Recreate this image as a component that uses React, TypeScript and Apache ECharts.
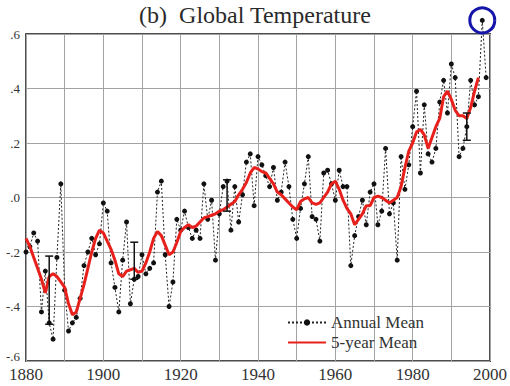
import { useEffect, useRef } from "react";
import * as echarts from "echarts";

const START_YEAR = 1880;

// Annual mean temperature anomaly (°C), 1880–1999
const annualMean = [
  -0.20, -0.18, -0.13, -0.16, -0.42, -0.27, -0.46, -0.52, -0.22, 0.05,
  -0.34, -0.49, -0.46, -0.44, -0.37, -0.25, -0.20, -0.15, -0.21, -0.17,
  -0.02, -0.05, -0.24, -0.33, -0.42, -0.23, -0.09, -0.39, -0.30, -0.29,
  -0.21, -0.28, -0.26, -0.24, 0.02, 0.06, -0.21, -0.40, -0.31, -0.08,
  -0.12, -0.05, -0.11, -0.15, -0.12, -0.15, 0.05, -0.08, -0.01, -0.23,
  -0.06, 0.04, 0.06, -0.12, 0.04, -0.09, 0.01, 0.13, 0.16, -0.03,
  0.15, 0.12, 0.08, 0.04, 0.11, -0.01, 0.02, 0.13, 0.04, -0.08,
  -0.15, -0.04, 0.05, 0.15, -0.07, -0.08, -0.16, 0.09, 0.10, 0.05,
  -0.01, 0.10, 0.04, 0.04, -0.25, -0.14, -0.07, -0.01, -0.10, 0.02,
  0.05, -0.10, -0.05, 0.18, -0.06, -0.02, -0.23, 0.15, 0.03, 0.12,
  0.26, 0.39, 0.09, 0.34, 0.16, 0.13, 0.18, 0.35, 0.43, 0.31,
  0.49, 0.44, 0.15, 0.18, 0.26, 0.43, 0.34, 0.37, 0.65, 0.44,
];

// 5-year running mean, 1880–1997
const fiveYearMean = [
  -0.15, -0.18, -0.22, -0.26, -0.30, -0.35, -0.29, -0.28, -0.29, -0.31,
  -0.33, -0.39, -0.43, -0.42, -0.37, -0.32, -0.26, -0.20, -0.15, -0.12,
  -0.13, -0.16, -0.19, -0.23, -0.28, -0.29, -0.27, -0.265, -0.26, -0.275,
  -0.27, -0.24, -0.20, -0.15, -0.125, -0.14, -0.175, -0.21, -0.20, -0.165,
  -0.125, -0.11, -0.10, -0.11, -0.105, -0.09, -0.075, -0.07, -0.065, -0.06,
  -0.05, -0.045, -0.035, -0.025, -0.015, 0.01, 0.03, 0.055, 0.09, 0.11,
  0.105, 0.095, 0.09, 0.07, 0.05, 0.02, 0.01, -0.005, -0.02, -0.035,
  -0.045, -0.015, -0.005, 0.0, -0.02, -0.025, -0.02, 0.0, 0.02, 0.05,
  0.06, 0.03, -0.01, -0.04, -0.06, -0.10, -0.08, -0.06, -0.03, -0.03,
  0.0, 0.005, 0.0, -0.01, -0.02, -0.01, 0.0, 0.04, 0.11, 0.17,
  0.20, 0.24, 0.25, 0.23, 0.18, 0.22, 0.26, 0.29, 0.37, 0.39,
  0.36, 0.32, 0.30, 0.30, 0.29, 0.33, 0.39, 0.44,
];

// Error bars
const errorYears = [1886, 1908, 1932, 1994];
const errorLow = [-0.465, -0.30, -0.05, 0.21];
const errorHigh = [-0.215, -0.164, 0.065, 0.31];

const highlightYear = 1998;

const SERIF = "'Liberation Serif', 'DejaVu Serif', serif";

function fmtY(v: number): string {
  const s = Math.abs(v).toFixed(1).replace(/^0/, "");
  return (v < -1e-9 ? "-" : "") + s;
}

export default function App() {
  const ref = useRef<HTMLDivElement>(null);

  useEffect(() => {
    if (!ref.current) return;
    const chart = echarts.init(ref.current, undefined, { renderer: "svg" });

    const annualData = annualMean.map((v, i) => [START_YEAR + i, v]);
    const fiveData = fiveYearMean.map((v, i) => [START_YEAR + i, v]);
    const errData = errorYears.map((y, i) => [y, errorLow[i], errorHigh[i]]);
    const hiIdx = highlightYear - START_YEAR;

    chart.setOption({
      animation: false,
      backgroundColor: "#ffffff",
      title: {
        text: "(b)  Global Temperature",
        left: "center",
        top: -2,
        textStyle: {
          fontFamily: SERIF,
          fontSize: 24,
          fontWeight: "normal",
          color: "#2a2a2a",
        },
      },
      grid: {
        left: 26,
        right: 20,
        top: 34,
        bottom: 25,
        show: true,
        borderColor: "#4d4d4d",
        borderWidth: 2,
      },
      xAxis: {
        type: "value",
        min: 1880,
        max: 2000,
        interval: 10,
        axisLine: { show: false },
        axisTick: { show: false },
        splitLine: { show: true, lineStyle: { color: "#a3a3a3", width: 1 } },
        axisLabel: {
          formatter: (v: number) => (v % 20 === 0 ? String(v) : ""),
          fontFamily: SERIF,
          fontSize: 17,
          color: "#333333",
          margin: 5,
        },
      },
      yAxis: {
        type: "value",
        min: -0.6,
        max: 0.6,
        interval: 0.2,
        axisLine: { show: false },
        axisTick: { show: false },
        splitLine: { show: true, lineStyle: { color: "#a3a3a3", width: 1 } },
        axisLabel: {
          formatter: (v: number) =>
            v < -0.59 ? "{low|" + fmtY(v) + "}" : fmtY(v),
          fontFamily: SERIF,
          fontSize: 13,
          color: "#333333",
          margin: 6,
          rich: {
            low: {
              fontFamily: SERIF,
              fontSize: 13,
              color: "#333333",
              padding: [0, 0, 9, 0],
            },
          },
        },
      },
      legend: {
        orient: "vertical",
        left: 282,
        top: 309,
        itemWidth: 38,
        itemHeight: 8,
        itemGap: 3,
        data: [
          { name: "Annual Mean" },
          { name: "5-year Mean", itemStyle: { opacity: 0 } },
        ],
        textStyle: {
          fontFamily: SERIF,
          fontSize: 17,
          color: "#333333",
          lineHeight: 17,
        },
      },
      series: [
        {
          name: "Annual Mean",
          type: "line",
          data: annualData,
          clip: false,
          symbol: "circle",
          symbolSize: 5,
          itemStyle: { color: "#111111" },
          lineStyle: { color: "#222222", width: 1, type: [2, 2] },
          z: 2,
        },
        {
          name: "5-year Mean",
          type: "line",
          data: fiveData,
          symbol: "none",
          itemStyle: { color: "#e8201c" },
          lineStyle: { color: "#e8201c", width: 3 },
          z: 3,
        },
        {
          name: "Error",
          type: "custom",
          data: errData,
          z: 4,
          renderItem: (_params: any, api: any) => {
            const x = api.value(0);
            const lo = api.coord([x, api.value(1)]);
            const hi = api.coord([x, api.value(2)]);
            const w = 4;
            const style = { stroke: "#111111", lineWidth: 1.5 };
            return {
              type: "group",
              children: [
                { type: "line", shape: { x1: lo[0], y1: lo[1], x2: hi[0], y2: hi[1] }, style },
                { type: "line", shape: { x1: lo[0] - w, y1: lo[1], x2: lo[0] + w, y2: lo[1] }, style },
                { type: "line", shape: { x1: hi[0] - w, y1: hi[1], x2: hi[0] + w, y2: hi[1] }, style },
              ],
            };
          },
        },
        {
          name: "Highlight",
          type: "scatter",
          data: [annualData[hiIdx]],
          clip: false,
          silent: true,
          symbol: "circle",
          symbolSize: 25,
          itemStyle: {
            color: "rgba(255,255,255,0)",
            borderColor: "#1515aa",
            borderWidth: 3,
            opacity: 1,
          },
          z: 5,
        },
      ],
    });

    return () => chart.dispose();
  }, []);

  return (
    <div
      ref={ref}
      style={{ position: "absolute", left: 0, top: 0, width: 510, height: 386 }}
    />
  );
}
